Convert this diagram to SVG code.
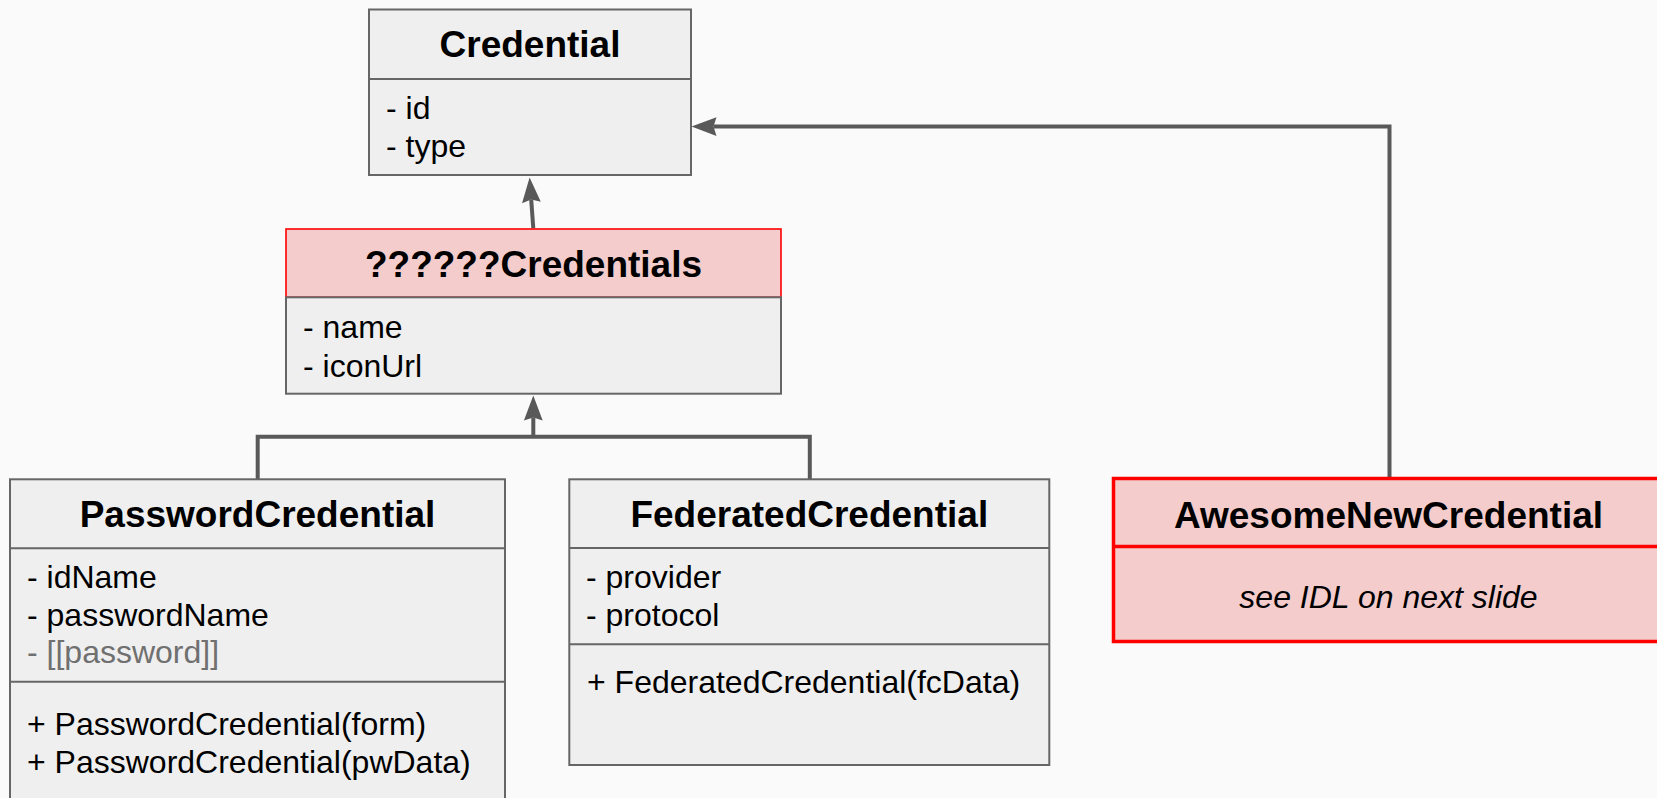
<svg xmlns="http://www.w3.org/2000/svg" width="1657" height="798" viewBox="0 0 1657 798">
  <style>
    .box { fill: #efefef; stroke: #666666; stroke-width: 2; }
    .hot { fill: #f4cccc; stroke: #ff0000; stroke-width: 1.6; }
    .hot-thick { fill: #f4cccc; stroke: #ff0000; stroke-width: 3.5; }
    .rule { stroke: #666666; stroke-width: 2; }
    .rule-red { stroke: #ff0000; stroke-width: 3.5; }
    .title { font-family: "Liberation Sans", Arial, sans-serif; font-weight: bold; font-size: 37px; fill: #000; text-anchor: middle; }
    .item { font-family: "Liberation Sans", Arial, sans-serif; font-size: 32px; fill: #000; }
    .muted { fill: #707070; }
    .note { font-family: "Liberation Sans", Arial, sans-serif; font-style: italic; font-size: 32px; fill: #000; text-anchor: middle; }
    .link { fill: none; stroke: #595959; stroke-width: 4; stroke-linejoin: miter; }
  </style>
  <defs>
    <marker id="head" markerUnits="userSpaceOnUse" markerWidth="30" markerHeight="24" viewBox="0 -12 30 24" refX="3" refY="0" orient="auto" overflow="visible">
      <path d="M0,-9.4 L25,0 L0,9.4 L3,0 Z" fill="#595959"/>
    </marker>
  </defs>

  <rect width="1657" height="798" fill="#fafafa"/>

  <!-- inheritance connectors -->
  <g id="connectors">
    <path class="link" d="M533.3 228.3 L531.2 199.5" marker-end="url(#head)"/>
    <path class="link" d="M257.7 479 V436.7 H809.8 V479"/>
    <path class="link" d="M533.3 436.7 V417.5" marker-end="url(#head)"/>
    <path class="link" d="M1389.5 477 V126.6 H713.5" marker-end="url(#head)"/>
  </g>

  <g id="credential">
    <rect class="box" x="369" y="9.5" width="322" height="165.5"/>
    <line class="rule" x1="369" y1="79" x2="691" y2="79"/>
    <text class="title" x="530" y="57.3">Credential</text>
    <text class="item" x="386" y="119">- id</text>
    <text class="item" x="386" y="156.7">- type</text>
  </g>

  <g id="unknown-credentials">
    <rect class="hot" x="286" y="229" width="495" height="68.3"/>
    <rect class="box" x="286" y="297.3" width="495" height="96.4"/>
    <text class="title" x="533.5" y="276.7">??????Credentials</text>
    <text class="item" x="303" y="338.3">- name</text>
    <text class="item" x="303" y="376.7">- iconUrl</text>
  </g>

  <g id="password-credential">
    <rect class="box" x="10" y="479.3" width="495" height="340"/>
    <line class="rule" x1="10" y1="548.3" x2="505" y2="548.3"/>
    <line class="rule" x1="10" y1="681.7" x2="505" y2="681.7"/>
    <text class="title" x="257.5" y="527.3">PasswordCredential</text>
    <text class="item" x="27" y="588.3">- idName</text>
    <text class="item" x="27" y="626">- passwordName</text>
    <text class="item muted" x="27" y="663.3">- [[password]]</text>
    <text class="item" x="27" y="735">+ PasswordCredential(form)</text>
    <text class="item" x="27" y="772.7">+ PasswordCredential(pwData)</text>
  </g>

  <g id="federated-credential">
    <rect class="box" x="569.3" y="479.3" width="480" height="285.7"/>
    <line class="rule" x1="569.3" y1="548" x2="1049.3" y2="548"/>
    <line class="rule" x1="569.3" y1="644.3" x2="1049.3" y2="644.3"/>
    <text class="title" x="809.3" y="527">FederatedCredential</text>
    <text class="item" x="586" y="588.3">- provider</text>
    <text class="item" x="586" y="626">- protocol</text>
    <text class="item" x="587" y="692.7">+ FederatedCredential(fcData)</text>
  </g>

  <g id="awesome-new-credential">
    <rect class="hot-thick" x="1113.5" y="478.5" width="560" height="163"/>
    <line class="rule-red" x1="1113.5" y1="546.5" x2="1673.5" y2="546.5"/>
    <text class="title" x="1388.5" y="527.5">AwesomeNewCredential</text>
    <text class="note" x="1388.5" y="607.5">see IDL on next slide</text>
  </g>
</svg>
